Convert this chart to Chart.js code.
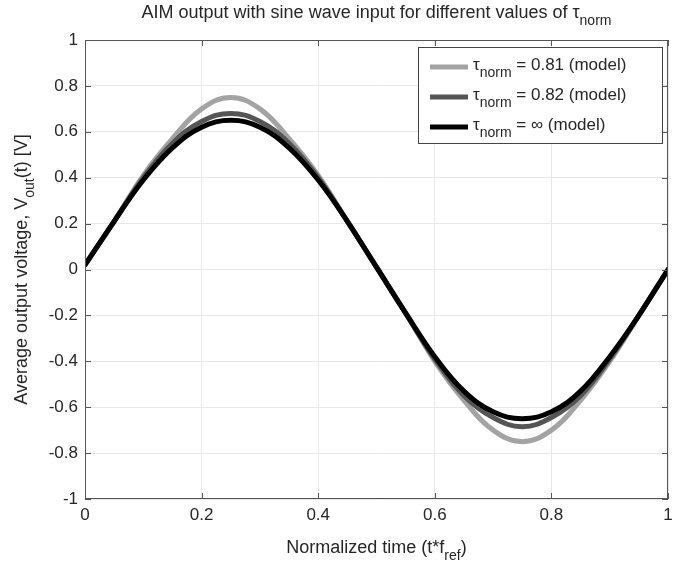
<!DOCTYPE html>
<html>
<head>
<meta charset="utf-8">
<script src="https://cdn.jsdelivr.net/npm/chart.js@4.4.1/dist/chart.umd.min.js"></script>
<style>
  body { margin: 0; background: #fff; }
  #wrap { width: 687px; height: 567px; }
</style>
</head>
<body>
<div id="wrap"><canvas id="myChart"></canvas></div>
<script>
// normalized time samples
const timeValues = [0, 0.05, 0.1, 0.15, 0.2, 0.25, 0.3, 0.35, 0.4, 0.45, 0.5,
                    0.55, 0.6, 0.65, 0.7, 0.75, 0.8, 0.85, 0.9, 0.95, 1];
const vTau081 = [0.02, 0.21, 0.41, 0.57, 0.70, 0.75, 0.70, 0.57, 0.41, 0.21, 0.01,
                 -0.19, -0.40, -0.57, -0.70, -0.75, -0.70, -0.57, -0.40, -0.20, 0.0];
const vTau082 = [0.02, 0.21, 0.40, 0.55, 0.645, 0.68, 0.645, 0.55, 0.40, 0.21, 0.01,
                 -0.19, -0.39, -0.55, -0.645, -0.685, -0.645, -0.55, -0.39, -0.20, 0.0];
const vTauInf = [0.02, 0.21, 0.39, 0.53, 0.62, 0.65, 0.62, 0.53, 0.39, 0.21, 0.01,
                 -0.19, -0.38, -0.53, -0.62, -0.65, -0.62, -0.53, -0.38, -0.20, 0.0];
const seriesLabels = ['= 0.81 (model)', '= 0.82 (model)', '= \u221e (model)'];
const seriesColors = ['#a3a3a3', '#555555', '#000000'];
const xTicks = [0, 0.2, 0.4, 0.6, 0.8, 1];
const yTicks = [-1, -0.8, -0.6, -0.4, -0.2, 0, 0.2, 0.4, 0.6, 0.8, 1];

const FONT = "'Liberation Sans', Arial, sans-serif";
const TEXT = '#262626';

const toPoints = (ys) => ys.map((y, i) => ({ x: timeValues[i], y: y }));

// text with optional subscript pieces
function drawParts(ctx, parts, x, y, size, align) {
  const subSize = Math.round(size * 0.8);
  let total = 0;
  parts.forEach(p => {
    ctx.font = (p.sub ? subSize : size) + 'px ' + FONT;
    p.w = ctx.measureText(p.t).width;
    total += p.w;
  });
  let cx = align === 'center' ? x - total / 2 : x;
  ctx.textAlign = 'left';
  ctx.textBaseline = 'middle';
  parts.forEach(p => {
    ctx.font = (p.sub ? subSize : size) + 'px ' + FONT;
    ctx.fillText(p.t, cx, p.sub ? y + size * 0.45 : y);
    cx += p.w;
  });
}

const matlabLook = {
  id: 'matlabLook',
  afterDraw(chart) {
    const ctx = chart.ctx;
    const a = chart.chartArea;
    const xs = chart.scales.x, ys = chart.scales.y;
    ctx.save();

    // box + inward ticks
    ctx.strokeStyle = '#555';
    ctx.lineWidth = 1;
    ctx.strokeRect(a.left + 0.5, a.top + 0.5, a.right - a.left - 1, a.bottom - a.top - 1);
    ctx.beginPath();
    xTicks.forEach(v => {
      const px = Math.round(xs.getPixelForValue(v)) + 0.5;
      ctx.moveTo(px, a.bottom); ctx.lineTo(px, a.bottom - 6);
      ctx.moveTo(px, a.top); ctx.lineTo(px, a.top + 6);
    });
    yTicks.forEach(v => {
      const py = Math.round(ys.getPixelForValue(v)) + 0.5;
      ctx.moveTo(a.left, py); ctx.lineTo(a.left + 6, py);
      ctx.moveTo(a.right, py); ctx.lineTo(a.right - 6, py);
    });
    ctx.stroke();

    ctx.fillStyle = TEXT;
    const midX = (a.left + a.right) / 2;
    // title
    drawParts(ctx, [{ t: 'AIM output with sine wave input for different values of \u03c4' }, { t: 'norm', sub: true }],
      midX, 13, 18, 'center');
    // x title
    drawParts(ctx, [{ t: 'Normalized time (t*f' }, { t: 'ref', sub: true }, { t: ')' }],
      midX, 548, 18, 'center');
    // y title
    ctx.save();
    ctx.translate(22, (a.top + a.bottom) / 2);
    ctx.rotate(-Math.PI / 2);
    drawParts(ctx, [{ t: 'Average output voltage, V' }, { t: 'out', sub: true }, { t: '(t) [V]' }],
      0, 0, 18, 'center');
    ctx.restore();

    // legend
    const bw = 244, bh = 96;
    const bx = a.right - 6 - bw, by = a.top + 7;
    ctx.fillStyle = '#fff';
    ctx.fillRect(bx, by, bw, bh);
    ctx.strokeStyle = '#444';
    ctx.lineWidth = 1;
    ctx.strokeRect(bx + 0.5, by + 0.5, bw, bh);
    chart.data.datasets.forEach((ds, i) => {
      const ry = by + 20 + i * 30;
      ctx.strokeStyle = ds.borderColor;
      ctx.lineWidth = 5;
      ctx.beginPath();
      ctx.moveTo(bx + 12, ry); ctx.lineTo(bx + 50, ry);
      ctx.stroke();
      ctx.fillStyle = TEXT;
      drawParts(ctx, [{ t: '\u03c4' }, { t: 'norm', sub: true }, { t: ' ' + ds.label }], bx + 55, ry - 2, 17, 'left');
    });
    ctx.restore();
  }
};

new Chart(document.getElementById('myChart'), {
  type: 'line',
  data: {
    datasets: [
      { label: seriesLabels[0], data: toPoints(vTau081), borderColor: seriesColors[0], order: 2 },
      { label: seriesLabels[1], data: toPoints(vTau082), borderColor: seriesColors[1], order: 1 },
      { label: seriesLabels[2], data: toPoints(vTauInf), borderColor: seriesColors[2], order: 0 }
    ]
  },
  options: {
    responsive: true,
    maintainAspectRatio: false,
    animation: false,
    layout: { padding: { top: 40, right: 19, left: 0, bottom: 0 } },
    elements: {
      line: { borderWidth: 5, tension: 0.4, fill: false, borderCapStyle: 'round' },
      point: { radius: 0 }
    },
    plugins: {
      legend: { display: false },
      title: { display: false },
      tooltip: { enabled: false }
    },
    scales: {
      x: {
        type: 'linear', min: 0, max: 1,
        afterBuildTicks: (s) => { s.ticks = xTicks.map(v => ({ value: v })); },
        afterFit: (s) => { s.height = 68; },
        grid: { color: '#e8e8e8', tickLength: 0, drawTicks: false },
        border: { display: false },
        ticks: { color: TEXT, font: { family: FONT, size: 17 }, padding: 6, maxRotation: 0,
                 callback: (v) => String(v) }
      },
      y: {
        type: 'linear', min: -1, max: 1,
        afterBuildTicks: (s) => { s.ticks = yTicks.map(v => ({ value: v })); },
        afterFit: (s) => { s.width = 85; },
        grid: { color: '#e8e8e8', tickLength: 0, drawTicks: false },
        border: { display: false },
        ticks: { color: TEXT, font: { family: FONT, size: 17 }, padding: 7,
                 callback: (v) => String(v) }
      }
    }
  },
  plugins: [matlabLook]
});
</script>
</body>
</html>
